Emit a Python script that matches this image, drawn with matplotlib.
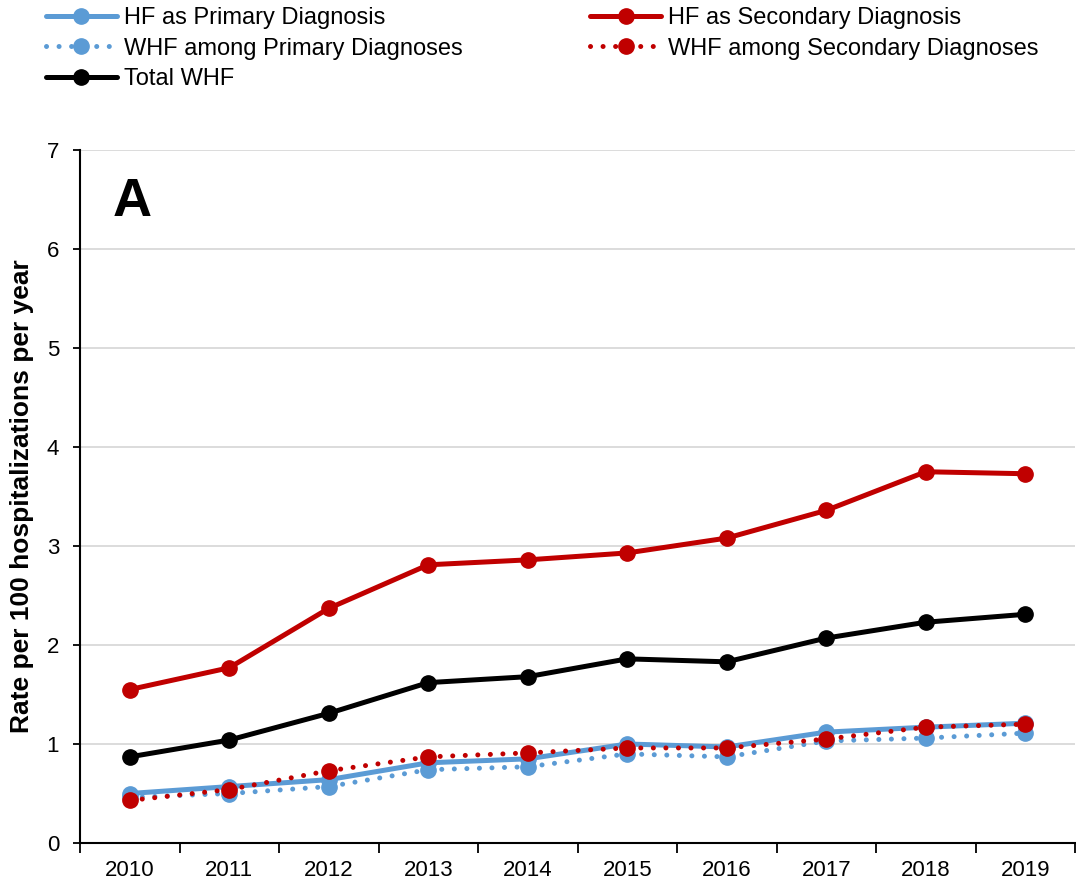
import matplotlib
matplotlib.use("Agg")
import matplotlib.pyplot as plt
import numpy as np

plt.rcParams['font.family'] = ['Liberation Sans', 'DejaVu Sans']

years = ["2010", "2011", "2012", "2013", "2014", "2015", "2016", "2017", "2018", "2019"]
hf_primary = [0.50, 0.57, 0.64, 0.81, 0.85, 1.00, 0.97, 1.12, 1.17, 1.21]
hf_secondary = [1.55, 1.77, 2.37, 2.81, 2.86, 2.93, 3.08, 3.36, 3.75, 3.73]
whf_primary = [0.46, 0.50, 0.57, 0.74, 0.77, 0.90, 0.87, 1.03, 1.06, 1.11]
whf_secondary = [0.43, 0.54, 0.73, 0.87, 0.91, 0.96, 0.96, 1.05, 1.17, 1.20]
total_whf = [0.87, 1.04, 1.31, 1.62, 1.68, 1.86, 1.83, 2.07, 2.23, 2.31]

blue = "#5B9BD5"
red = "#C00000"

fig = plt.figure(figsize=(10.76, 8.85), dpi=100)
ax = fig.add_axes([80/1076, 42/885, 995/1076, 693/885])
x = np.arange(len(years))

ms = 11
lw = 3.6
dot = (0, (0.01, 2.5))
h1, = ax.plot(x, hf_primary, color=blue, lw=lw, marker='o', ms=ms, solid_capstyle='round',
              label="HF as Primary Diagnosis", zorder=3)
h2, = ax.plot(x, whf_primary, color=blue, lw=lw, marker='o', ms=ms, linestyle=dot,
              dash_capstyle='round', label="WHF among Primary Diagnoses", zorder=3)
h5, = ax.plot(x, total_whf, color='black', lw=lw, marker='o', ms=ms, solid_capstyle='round',
              label="Total WHF", zorder=4)
h3, = ax.plot(x, hf_secondary, color=red, lw=lw, marker='o', ms=ms, solid_capstyle='round',
              label="HF as Secondary Diagnosis", zorder=4)
h4, = ax.plot(x, whf_secondary, color=red, lw=lw, marker='o', ms=ms, linestyle=dot,
              dash_capstyle='round', label="WHF among Secondary Diagnoses", zorder=5)

ax.set_xlim(-0.5, 9.5)
ax.set_ylim(0, 7)
ax.set_yticks(range(0, 8))
ax.tick_params(axis='y', labelsize=16, length=5, width=1.3, direction='out', pad=10)
ax.set_xticks(np.arange(-0.5, 10, 1))
ax.set_xticklabels([])
ax.tick_params(axis='x', which='major', length=7, width=1.3, direction='out')
ax.set_xticks(x, minor=True)
ax.set_xticklabels(years, minor=True)
ax.tick_params(axis='x', which='minor', length=0, labelsize=16, pad=12)

ax.grid(axis='y', color='#D9D9D9', lw=1.3, zorder=0)
ax.set_axisbelow(True)
for s in ['top', 'right']:
    ax.spines[s].set_visible(False)
ax.spines['left'].set_linewidth(1.5)
ax.spines['bottom'].set_linewidth(1.5)

ax.set_ylabel("Rate per 100 hospitalizations per year", fontsize=19, fontweight='bold')
ax.yaxis.set_label_coords(-(80 - 34)/995, 0.5)
ax.text(33/995, (843-177)/693, "A", transform=ax.transAxes, fontsize=39, fontweight='bold',
        va='top', ha='left')

fig.legend(handles=[h1, h2, h5, h3, h4], loc='upper left', bbox_to_anchor=(46/1076, 1 - 7/885),
           ncol=2, frameon=False, fontsize=17, handlelength=3.0, handletextpad=0.3,
           columnspacing=5.4, labelspacing=0.36, borderaxespad=0, borderpad=0)

fig.savefig("out.png", dpi=100)
